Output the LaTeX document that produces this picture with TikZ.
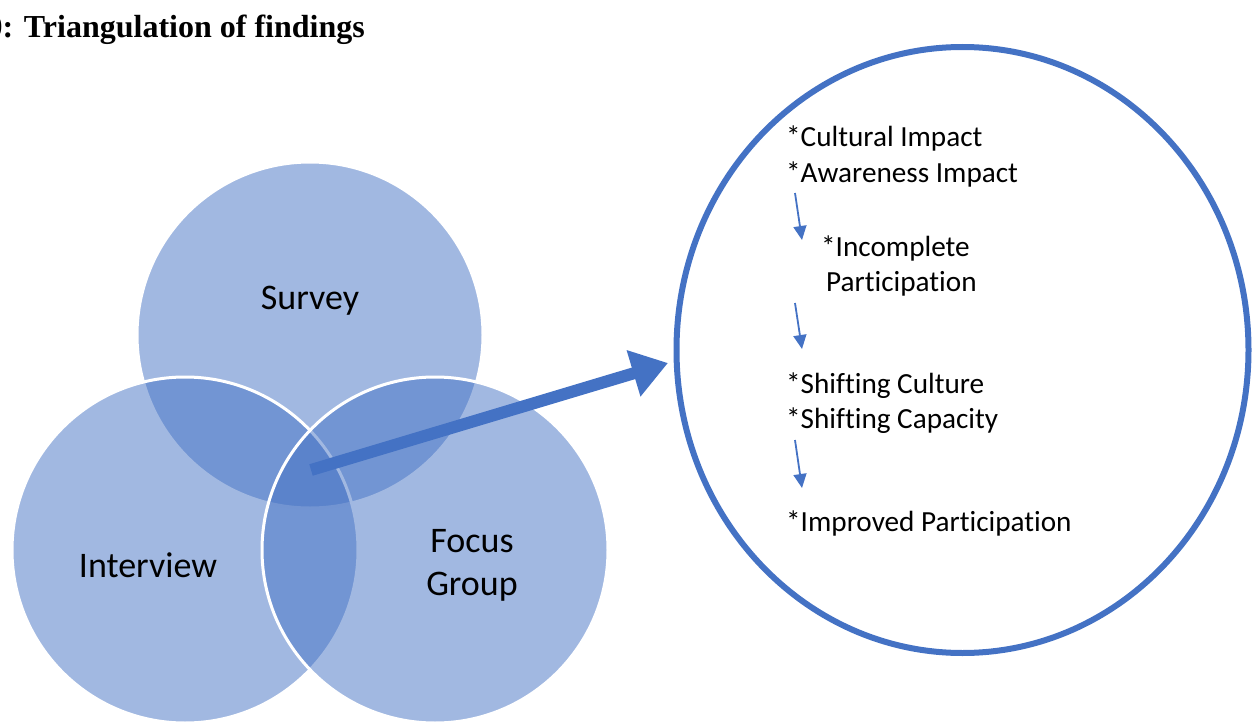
\documentclass[tikz,border=0pt]{standalone}
\usepackage{fontspec}
\setmainfont[Ligatures=NoCommon]{Carlito}
\newfontfamily\titlefont{Liberation Serif}
\usetikzlibrary{arrows.meta,shapes.geometric}
\definecolor{accent}{HTML}{4472C4}
\tikzset{
  venn/.style={circle, fill=accent, fill opacity=0.5, draw=white, draw opacity=1, line width=3pt, minimum size=346pt, inner sep=0pt},
  vlabel/.style={font=\fontsize{36}{43}\selectfont, align=center, text=black},
  item/.style={font=\fontsize{29.2}{35}\selectfont, anchor=west, inner sep=0pt, text=black},
  bigarrow/.style={draw=accent, line width=12pt, -{Triangle[length=36pt,width=46pt]}},
  smallarrow/.style={draw=accent, line width=1.8pt, -{Triangle[length=14pt,width=13pt]}},
  outcome/.style={ellipse, draw=accent, line width=6pt, minimum width=572pt, minimum height=606pt, inner sep=0pt}
}
\begin{document}
\begin{tikzpicture}[x=1pt,y=-1pt]
\useasboundingbox (0,0) rectangle (1254,725);
% title
\node[anchor=base east, inner sep=0pt, font=\titlefont\bfseries\fontsize{32}{38}\selectfont] (title) at (365,38) {0: Triangulation of findings};
% venn circles
\node[venn] (survey) at (310,335) {};
\node[venn] (interview) at (185,550) {};
\node[venn] (focus) at (435,550) {};
\node[vlabel] (surveyL) at (310,301) {Survey};
\node[vlabel] (interviewL) at (148,565) {Interview};
\node[vlabel] (focusL) at (472,565) {Focus\\Group};
% outcome ellipse
\node[outcome] (out) at (962.5,350) {};
\coordinate (src) at (311,470);
\coordinate (dst) at (668,363);
\draw[bigarrow] (src) -- (dst);
% items
\node[item] (i1) at (786,138) {*Cultural Impact};
\node[item] (i2) at (786,174) {*Awareness Impact};
\node[item] (i3) at (821,248) {*Incomplete};
\node[item] (i4) at (826,284) {Participation};
\node[item] (i5) at (786,386) {*Shifting Culture};
\node[item] (i6) at (786,421) {*Shifting Capacity};
\node[item] (i7) at (786,523) {*Improved Participation};
\coordinate (a1s) at (795,193); \coordinate (a1e) at (802,240);
\coordinate (a2s) at (795,303); \coordinate (a2e) at (802,349);
\coordinate (a3s) at (795,440); \coordinate (a3e) at (802,488);
\draw[smallarrow] (a1s) -- (a1e);
\draw[smallarrow] (a2s) -- (a2e);
\draw[smallarrow] (a3s) -- (a3e);
\end{tikzpicture}
\end{document}
